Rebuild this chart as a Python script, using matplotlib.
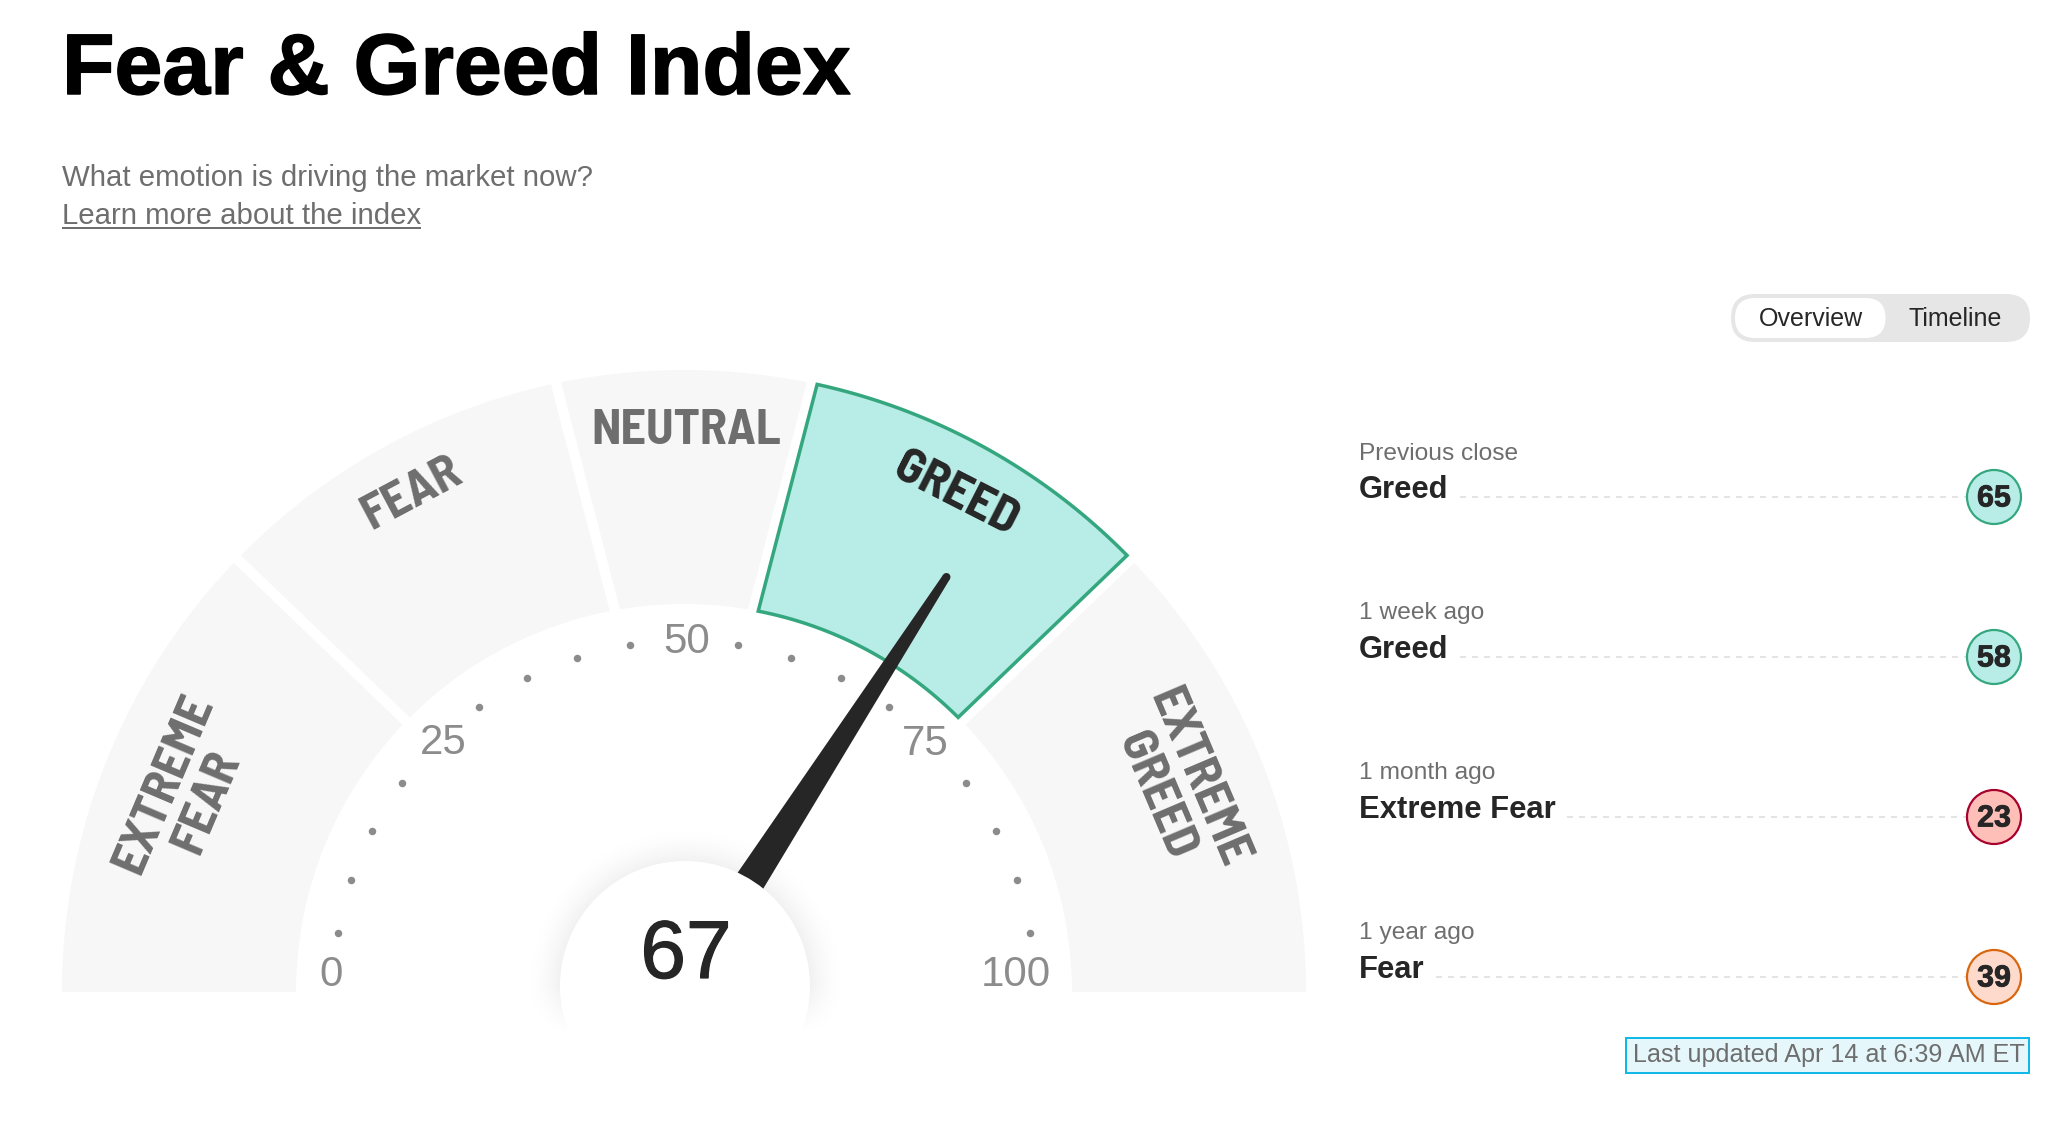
import numpy as np
import matplotlib
matplotlib.use('Agg')
from matplotlib import pyplot as plt
import matplotlib.patheffects as pe
from matplotlib.patches import Polygon, Circle, FancyBboxPatch, Rectangle

# gauge zones, edges are in index units, slightly different on the outer and inner arc
zone_names = ['EXTREME\nFEAR', 'FEAR', 'NEUTRAL', 'GREED', 'EXTREME\nGREED']
outer_edges = [0, 24.5, 43.4, 56.6, 75.5, 100]
inner_edges = [0, 24.6, 44.3, 55.7, 75.4, 100]
current_zone = 3

current_value = 67
tick_labels = [0, 25, 50, 75, 100]
dot_values = [5.4, 10.3, 15.2, 20.3, 30.2, 35.2, 40.1, 45.1, 54.9, 59.9, 64.8, 69.8, 79.7, 84.8, 89.7, 94.6]

history_when = ['Previous close', '1 week ago', '1 month ago', '1 year ago']
history_rating = ['Greed', 'Greed', 'Extreme Fear', 'Fear']
history_score = [65, 58, 23, 39]

GREY_TEXT = '#6e6e6e'
DARK = '#262626'
ZONE_GREY = '#f7f7f7'
rating_fill = {'Greed': '#b8ece6', 'Extreme Fear': '#fdbfb8', 'Fear': '#fddacb'}
rating_edge = {'Greed': '#35a77f', 'Extreme Fear': '#a8002c', 'Fear': '#d9660f'}

DPI = 100
W, H = 2060, 1126
CX, CY = 684, 992
R_OUT, R_IN = 622, 388
HALF_GAP = 5.2
SANS = 'Liberation Sans'
COND = 'Barlow Semi Condensed'


def px(size):
    return size * 72 / DPI


def gauge_xy(value, radius):
    a = np.radians(180 - 1.8 * np.asarray(value, dtype=float))
    return CX + radius * np.cos(a), CY - radius * np.sin(a)


def arc(v0, v1, radius):
    # v0, v1 get pulled in by half the gap, except on the flat ends
    pad = np.degrees(HALF_GAP / radius) / 1.8
    a = v0 + (pad if v0 > 0 else 0)
    b = v1 - (pad if v1 < 100 else 0)
    vals = np.linspace(a, b, 80)
    x, y = gauge_xy(vals, radius)
    return np.column_stack([x, y])


def heavier(width):
    return [pe.withStroke(linewidth=px(width), foreground='black')]


fig = plt.figure(figsize=(W / DPI, H / DPI), dpi=DPI, facecolor='white')
ax = fig.add_axes([0, 0, 1, 1])
ax.set_xlim(0, W)
ax.set_ylim(H, 0)
ax.axis('off')

# header
ax.text(62, 94, 'Fear & Greed Index', family=SANS, weight='bold', fontsize=px(86), color='black', va='baseline',
        path_effects=heavier(1.5))
ax.text(62, 186, 'What emotion is driving the market now?', family=SANS, fontsize=px(29.4), color=GREY_TEXT, va='baseline')
ax.text(62, 224, 'Learn more about the index', family=SANS, fontsize=px(29.4), color=GREY_TEXT, va='baseline')
ax.plot([62, 421], [228, 228], color=GREY_TEXT, lw=px(2), solid_capstyle='butt')

# zones
for i, name in enumerate(zone_names):
    outer = arc(outer_edges[i], outer_edges[i + 1], R_OUT)
    inner = arc(inner_edges[i], inner_edges[i + 1], R_IN)
    pts = np.vstack([outer, inner[::-1]])
    if i == current_zone:
        ax.add_patch(Polygon(pts, closed=True, facecolor=rating_fill['Greed'], edgecolor=rating_edge['Greed'],
                             lw=px(3.5), joinstyle='miter', zorder=2))
    else:
        ax.add_patch(Polygon(pts, closed=True, facecolor=ZONE_GREY, edgecolor='none', zorder=1))

label_spots = [(186, 793, 67), (412, 494, 28), (686, 431, 0), (956, 494, -27), (1177, 787, -67)]
for i, (name, spot) in enumerate(zip(zone_names, label_spots)):
    ax.text(spot[0], spot[1], name, family=COND, weight='bold', fontsize=px(50), rotation=spot[2],
            color=DARK if i == current_zone else GREY_TEXT, ha='center', va='center', ma='center',
            linespacing=1.08, zorder=3)

# dots and scale labels
dx, dy = gauge_xy(dot_values, 351)
ax.scatter(dx, dy, s=px(7.5) ** 2, color='#8c8c8c', linewidths=0, zorder=3)
tick_spots = [(331, 975), (443, 743), (687, 642), (925, 744), (1016, 975)]
for val, spot in zip(tick_labels, tick_spots):
    ax.text(spot[0], spot[1], str(val), family=SANS, fontsize=px(42), color='#8c8c8c', ha='center', va='center', zorder=3)

# soft shadow round the hub
yy, xx = np.mgrid[800:1060, 520:850]
dist = np.hypot(xx - 685, yy - 986)
shade = np.clip(1 - (dist - 124) / 42, 0, 1) ** 2 * 0.06
shade *= np.clip((1035 - yy) / 50, 0, 1)
rgba = np.zeros(shade.shape + (4,))
rgba[..., 3] = shade
ax.imshow(rgba, extent=[520, 850, 1060, 800], aspect='auto', zorder=4, interpolation='bilinear')
ax.set_xlim(0, W)
ax.set_ylim(H, 0)

# needle, base is hidden under the hub
tip = np.array(gauge_xy(current_value + 0.95, 491))
base = np.array(gauge_xy(current_value - 0.2, 100))
d = (tip - base) / np.hypot(*(tip - base))
n = np.array([-d[1], d[0]])
needle = [tip + n * 4, tip - n * 4, base - n * 16, base + n * 16]
ax.add_patch(Polygon(needle, closed=True, facecolor=DARK, edgecolor='none', zorder=5))
ax.add_patch(Circle(tip, 4, facecolor=DARK, edgecolor='none', zorder=5))

ax.add_patch(Circle((685, 986), 125, facecolor='white', edgecolor='none', zorder=6))
ax.text(686, 978, str(current_value), family=SANS, fontsize=px(82), color=DARK, ha='center', va='baseline', zorder=7,
        path_effects=[pe.withStroke(linewidth=px(1.2), foreground=DARK)])

# overview / timeline toggle
ax.add_patch(FancyBboxPatch((1731, 294), 299, 48, boxstyle='round,pad=0,rounding_size=24',
                            facecolor='#e6e6e6', edgecolor='none'))
ax.add_patch(FancyBboxPatch((1735, 298), 150.5, 40, boxstyle='round,pad=0,rounding_size=20',
                            facecolor='white', edgecolor='none', zorder=2))
ax.text(1810.5, 316, 'Overview', family=SANS, fontsize=px(25), color=DARK, ha='center', va='center_baseline', zorder=3)
ax.text(1955, 316, 'Timeline', family=SANS, fontsize=px(25), color=DARK, ha='center', va='center_baseline', zorder=3)

# history list
renderer = fig.canvas.get_renderer()
for i, (when, rating, score) in enumerate(zip(history_when, history_rating, history_score)):
    row = 160 * i
    ax.text(1359, 459.5 + row, when, family=SANS, fontsize=px(24.5), color=GREY_TEXT, va='baseline')
    t = ax.text(1359, 497.7 + row, rating, family=SANS, weight='bold', fontsize=px(31), color=DARK, va='baseline')
    right = ax.transData.inverted().transform(t.get_window_extent(renderer))[1, 0]
    ax.plot([right + 11, 1966], [497 + row, 497 + row], color='#e4e4e4', lw=px(2), dashes=(3, 3), zorder=1)
    ax.add_patch(Circle((1994, 497 + row), 27, facecolor=rating_fill[rating], edgecolor=rating_edge[rating],
                        lw=px(2.2), zorder=2))
    ax.text(1994, 495.5 + row, str(score), family=SANS, weight='bold', fontsize=px(30.5), color=DARK,
            ha='center', va='center_baseline', zorder=3, path_effects=[pe.withStroke(linewidth=px(0.8), foreground=DARK)])

# last updated box
ax.add_patch(Rectangle((1626, 1038), 403, 34.5, facecolor='#e6f7fc', edgecolor='#11b8e8', lw=px(2)))
ax.text(1633, 1062, 'Last updated Apr 14 at 6:39 AM ET', family=SANS, fontsize=px(25.1), color=GREY_TEXT, va='baseline')

fig.savefig('out.png', dpi=DPI, facecolor='white')
